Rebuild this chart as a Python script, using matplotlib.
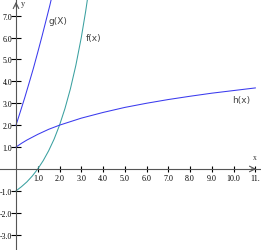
import matplotlib
matplotlib.use("Agg")
import matplotlib.pyplot as plt

# values
g_x = [0.0, 0.2, 0.4, 0.6, 0.8, 1.0, 1.2, 1.4, 1.55, 1.68]
g_y = [2.0, 2.62, 3.25, 3.92, 4.6, 5.33, 6.08, 6.86, 7.45, 8.0]

f_x = [0.0, 0.25, 0.5, 0.75, 1.0, 1.25, 1.5, 1.75, 2.0, 2.25, 2.5, 2.75, 3.0, 3.2, 3.35]
f_y = [-1.0, -0.81, -0.59, -0.32, 0.0, 0.38, 0.83, 1.36, 2.0, 2.76, 3.66, 4.73, 6.0, 7.19, 8.2]

h_x = [0, 0.25, 0.5, 1, 1.5, 2, 3, 4, 5, 6, 7, 8, 9, 10, 11]
h_y = [1.0, 1.17, 1.32, 1.58, 1.81, 2.0, 2.32, 2.58, 2.81, 3.0, 3.17, 3.32, 3.46, 3.58, 3.70]

x_ticks = [1, 2, 3, 4, 5, 6, 7, 8, 9, 10, 11]
x_labels = ["1.0", "2.0", "3.0", "4.0", "5.0", "6.0", "7.0", "8.0", "9.0", "10.0", "11."]
y_ticks = [-3, -2, -1, 1, 2, 3, 4, 5, 6, 7]
y_labels = ["-3.0", "-2.0", "-1.0", "1.0", "2.0", "3.0", "4.0", "5.0", "6.0", "7.0"]

BLUE = "#3a3aee"
TEAL = "#3aa0a0"
AXIS = "#555555"

fig = plt.figure(figsize=(2.61, 2.51), dpi=100)
ax = fig.add_axes([0, 0, 1, 1])
ax.set_xlim(-0.736, 11.26)
ax.set_ylim(-3.70, 7.76)

ax.plot(g_x, g_y, color=BLUE, lw=0.75)
ax.plot(f_x, f_y, color=TEAL, lw=0.75)
ax.plot(h_x, h_y, color=BLUE, lw=0.75)

# axes through the origin
for s in ["top", "right"]:
    ax.spines[s].set_visible(False)
ax.spines["left"].set_position(("data", 0))
ax.spines["bottom"].set_position(("data", 0))
ax.spines["left"].set_color(AXIS)
ax.spines["bottom"].set_color(AXIS)
ax.spines["left"].set_linewidth(0.8)
ax.spines["bottom"].set_linewidth(0.8)

ax.set_xticks(x_ticks)
ax.set_xticklabels(x_labels, family="Liberation Serif", fontsize=5.8)
ax.set_yticks(y_ticks)
ax.set_yticklabels(y_labels, family="Liberation Serif", fontsize=5.6)
ax.tick_params(axis="x", direction="inout", length=5, width=0.8, pad=1, color="black")
ax.tick_params(axis="y", direction="inout", length=7, width=0.8, pad=-0.8, color="black")

# arrow heads on the axes
ax.annotate("", xy=(0, 7.76), xytext=(0, 7.3),
            arrowprops=dict(arrowstyle="->", lw=0.8, color=AXIS))
ax.annotate("", xy=(11.17, 0), xytext=(10.7, 0),
            arrowprops=dict(arrowstyle="->", lw=0.8, color=AXIS))

ax.text(0.22, 7.5, "y", fontsize=6, family="Liberation Serif", color="#333333")
ax.text(10.9, 0.45, "x", fontsize=5.5, family="Liberation Serif", color="#333333")

ax.text(1.5, 6.65, "g(X)", fontsize=6.5, color="#444444")
ax.text(3.2, 5.9, "f(x)", fontsize=6.5, color="#444444")
ax.text(9.95, 3.05, "h(x)", fontsize=6.5, color="#444444")

fig.savefig("out.png", dpi=100)
